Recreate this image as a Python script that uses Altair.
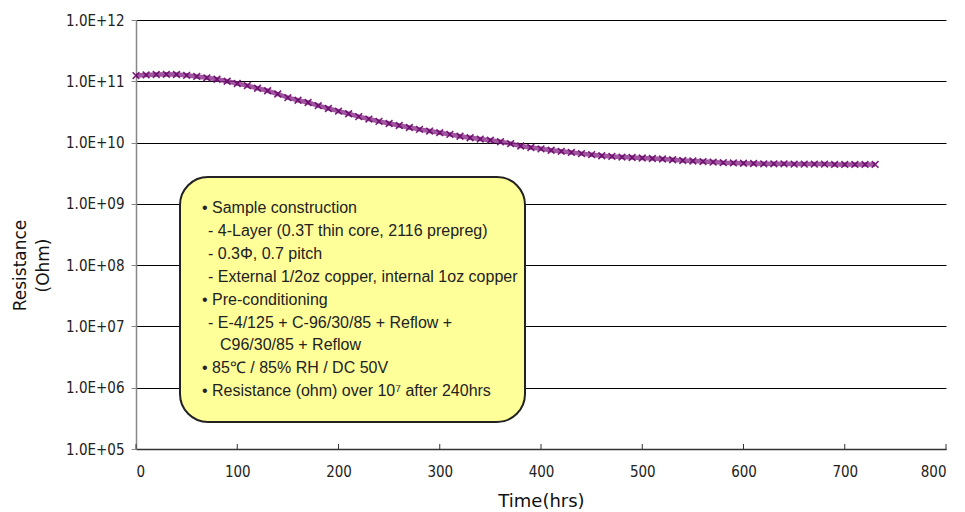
import altair as alt
import pandas as pd

# ---- data ----
hours = [0, 10, 20, 30, 40, 50, 60, 70, 80, 90,
         100, 110, 120, 130, 140, 150, 160, 170, 180, 190,
         200, 210, 220, 230, 240, 250, 260, 270, 280, 290,
         300, 310, 320, 330, 340, 350, 360, 370, 380, 390,
         400, 410, 420, 430, 440, 450, 460, 470, 480, 490,
         500, 510, 520, 530, 540, 550, 560, 570, 580, 590,
         600, 610, 620, 630, 640, 650, 660, 670, 680, 690,
         700, 710, 720, 730]
resistance = [1.24e11, 1.27e11, 1.29e11, 1.30e11, 1.29e11, 1.25e11, 1.20e11, 1.14e11, 1.08e11, 1.00e11,
              9.2e10, 8.5e10, 7.7e10, 7.0e10, 6.2e10, 5.4e10, 4.9e10, 4.5e10, 4.0e10, 3.6e10,
              3.25e10, 2.95e10, 2.65e10, 2.42e10, 2.22e10, 2.05e10, 1.9e10, 1.76e10, 1.64e10, 1.54e10,
              1.45e10, 1.36e10, 1.27e10, 1.2e10, 1.14e10, 1.09e10, 1.03e10, 9.6e9, 8.8e9, 8.3e9,
              7.9e9, 7.5e9, 7.2e9, 6.9e9, 6.6e9, 6.35e9, 6.1e9, 5.95e9, 5.8e9, 5.7e9,
              5.6e9, 5.5e9, 5.4e9, 5.25e9, 5.1e9, 5.0e9, 4.9e9, 4.8e9, 4.7e9, 4.65e9,
              4.6e9, 4.55e9, 4.5e9, 4.5e9, 4.5e9, 4.45e9, 4.45e9, 4.45e9, 4.45e9, 4.4e9,
              4.4e9, 4.4e9, 4.4e9, 4.4e9]
y_ticks = [1e5, 1e6, 1e7, 1e8, 1e9, 1e10, 1e11, 1e12]
x_ticks = [0, 100, 200, 300, 400, 500, 600, 700, 800]
x_title = "Time(hrs)"
y_title = ["Resistance", "(Ohm)"]
note_lines = [
    "\u2022 Sample construction",
    "- 4-Layer (0.3T thin core, 2116 prepreg)",
    "- 0.3\u03a6, 0.7 pitch",
    "- External 1/2oz copper, internal 1oz copper",
    "\u2022 Pre-conditioning",
    "- E-4/125 + C-96/30/85 + Reflow +",
    "C96/30/85 + Reflow",
    "\u2022 85\u2103 / 85% RH / DC 50V",
    "\u2022 Resistance (ohm) over 10\u2077 after 240hrs",
]
note_indent = [0, 1, 1, 1, 0, 1, 2, 0, 0]

# ---- layout ----
W, H = 810, 429
LABEL_FONT = "DejaVu Sans Condensed, Liberation Sans, sans-serif"
TITLE_FONT = "DejaVu Sans, sans-serif"

df = pd.DataFrame({"hours": hours, "resistance": resistance})
ticks_df = pd.DataFrame({"hours": x_ticks})
one = pd.DataFrame({"k": [0]})

x_enc = alt.X(
    "hours:Q",
    scale=alt.Scale(domain=[0, 800], nice=False, zero=False),
    axis=alt.Axis(
        values=x_ticks, title=x_title, grid=False, ticks=False,
        domainColor="#333333", domainWidth=1.5,
        labelFont=LABEL_FONT, labelFontSize=15, labelColor="#222222", labelPadding=15,
        titleFont=TITLE_FONT, titleFontSize=18, titleFontWeight="normal", titleColor="#111111",
        titleY=57, titleBaseline="alphabetic",
    ),
)
y_enc = alt.Y(
    "resistance:Q",
    scale=alt.Scale(type="log", domain=[1e5, 1e12], nice=False),
    axis=alt.Axis(
        values=y_ticks,
        labelExpr="'1.0E+' + (round(log(datum.value)/LN10) < 10 ? '0' : '') + round(log(datum.value)/LN10)",
        grid=True, gridColor="#000000", gridWidth=1,
        tickColor="#888888", tickSize=5, domainColor="#888888", domainWidth=1.5,
        labelFont=LABEL_FONT, labelFontSize=15, labelColor="#222222", labelPadding=7,
        title=y_title, titleFont=TITLE_FONT, titleFontSize=17, titleFontWeight="normal",
        titleColor="#111111", titleAngle=-90, titleX=-116, titleY=245,
        titleAlign="center", titleBaseline="middle", titleLineHeight=23,
    ),
)

line = alt.Chart(df).mark_line(color="#8a2a8a", strokeWidth=4.5, opacity=0.8).encode(x=x_enc, y=y_enc)
pts = alt.Chart(df).mark_point(
    shape="M-1,-1L1,1M-1,1L1,-1", size=45, filled=False, strokeWidth=1.6,
    color="#6a0a6a", opacity=0.9,
).encode(x=x_enc, y=y_enc)

xticks = alt.Chart(ticks_df).mark_rule(color="#333333", strokeWidth=1).encode(
    x=x_enc, y=alt.value(H - 5), y2=alt.value(H)
)

box = alt.Chart(one).mark_rect(
    fill="#FFFF99", stroke="#222222", strokeWidth=2, cornerRadius=28
).encode(x=alt.value(44), x2=alt.value(389), y=alt.value(157), y2=alt.value(402))

indent_x = {0: 66, 1: 72, 2: 84}
texts = []
for i, (t, ind) in enumerate(zip(note_lines, note_indent)):
    texts.append(
        alt.Chart(one).mark_text(
            text=t, align="left", baseline="middle",
            font="Liberation Sans, Arial, sans-serif", fontSize=16, color="#222222",
        ).encode(x=alt.value(indent_x[ind]), y=alt.value(188 + i * 22.9))
    )

chart = alt.layer(line, pts, xticks, box, *texts).properties(
    width=W, height=H,
    autosize=alt.AutoSizeParams(type="none"),
    padding={"left": 136, "top": 20, "right": 19, "bottom": 63},
    background="white",
).configure_view(stroke=None)

chart.save("out.html", embed_options={"renderer": "svg", "actions": False})
